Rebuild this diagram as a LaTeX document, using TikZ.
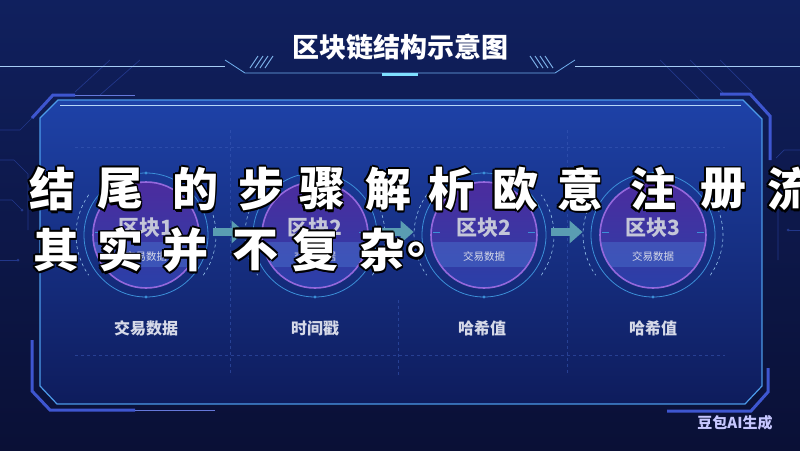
\documentclass[tikz,border=0pt]{standalone}
\usepackage{fontspec}
\setmainfont{Noto Sans CJK SC}
\usetikzlibrary{arrows.meta}
\definecolor{bgtop}{HTML}{10205E}
\definecolor{bgbot}{HTML}{0A1036}
\definecolor{paneltop}{HTML}{1E42A8}
\definecolor{panelbot}{HTML}{0E1C5C}
\definecolor{edge}{HTML}{4C9BEA}
\definecolor{accent}{HTML}{3E56D0}
\definecolor{ring}{HTML}{3C8FD8}
\definecolor{disctop}{HTML}{4C2C9E}
\definecolor{discbot}{HTML}{2A40A8}
\definecolor{discedge}{HTML}{9468DC}
\definecolor{bandc}{HTML}{4A74D0}
\definecolor{arrowc}{HTML}{5A9DB2}
\definecolor{lbl}{HTML}{D6D9E8}
\definecolor{blk}{HTML}{C4C6D8}
\definecolor{circuit}{HTML}{22378A}
\definecolor{grid}{HTML}{3A5AB8}
\definecolor{glow}{HTML}{7FE0FF}
\tikzset{
  bigtxt/.style={font=\bfseries\fontsize{46}{46}\selectfont, inner sep=0pt},
  blocktxt/.style={font=\bfseries\fontsize{21}{21}\selectfont, text=blk},
  subtxt/.style={font=\fontsize{10.5}{11}\selectfont, text=lbl},
  labeltxt/.style={font=\bfseries\fontsize{16}{16}\selectfont, text=lbl},
  ringnode/.style={circle, minimum size=124pt, inner sep=0pt, draw=ring, line width=0.8pt},
  flowarrow/.style={arrowc, line width=8pt, -{Triangle[width=22pt,length=13pt]}},
  accentline/.style={accent, line width=3pt},
  thinaccent/.style={accent!80, line width=1pt},
  circuitline/.style={circuit, line width=0.7pt},
  gridline/.style={grid, dashed, line width=0.5pt, opacity=0.55}
}
\newcommand\brushch[4]{%
  \foreach \dx/\dy in {-1.8/0,1.8/0,0/-1.8,0/1.8,-1.3/-1.3,1.3/1.3,-1.3/1.3,1.3/-1.3,1.5/-2.5}{%
    \node[bigtxt, text=black, xshift=\dx pt, yshift=\dy pt] at (#1,#2) {#3};}
  \node[bigtxt, text=white] (#4) at (#1,#2) {#3};}
\begin{document}
\begin{tikzpicture}[x=1pt,y=-1pt]
\useasboundingbox (0,0) rectangle (800,450);
% background
\shade[top color=bgtop, bottom color=bgbot] (0,0) rectangle (800,450);
% circuits left/right
\draw[circuitline] (0,130) -- (20,130) -- (32,118);
\draw[circuitline] (0,160) -- (14,160) -- (28,174) -- (28,230);
\draw[circuitline] (0,200) -- (12,200) -- (22,210);
\draw[circuitline] (0,260) -- (18,260);
\fill[circuit] (22,210) circle (1.5pt) (18,260) circle (1.5pt);
\draw[circuitline] (800,150) -- (784,150) -- (776,158);
\draw[circuitline] (800,190) -- (786,190) -- (778,198) -- (778,260);
\draw[circuitline] (800,230) -- (788,230);
\fill[circuit] (788,230) circle (1.5pt);
\draw[circuitline] (660,60) -- (700,100);
\draw[circuitline] (690,60) -- (725,95);
\draw[circuitline] (720,60) -- (752,92);
\draw[circuitline] (140,60) -- (100,95);
\draw[circuitline] (110,60) -- (75,92);
% title
\node[font=\bfseries\fontsize{27}{27}\selectfont, text=white] (title) at (400,47) {区块链结构示意图};
\draw[edge!80, line width=0.8pt] (225,60) -- (245,73) -- (555,73) -- (575,60);
\draw[edge!50, line width=0.6pt] (0,66) -- (225,66);
\draw[edge!50, line width=0.6pt] (575,66) -- (800,66);
\foreach \s in {0,5,10,15} {
  \draw[edge!70, line width=0.9pt] (250+\s,68) -- (258+\s,56);
  \draw[edge!70, line width=0.9pt] (530+\s,56) -- (538+\s,68);
}
\draw[glow, line width=3pt] (382,74) -- (418,74);
% panel
\fill[top color=paneltop, bottom color=panelbot]
  (58,100) -- (743,100) -- (762,119) -- (762,386) -- (745,404) -- (57,404) -- (40,386) -- (40,118) -- cycle;
\draw[edge, line width=1.2pt]
  (58,100) -- (743,100) -- (762,119) -- (762,386) -- (745,404) -- (57,404) -- (40,386) -- (40,118) -- cycle;
\draw[edge!40, line width=0.5pt] (60,105) -- (741,105);
% accents
\draw[accentline] (32,118) -- (53,95) -- (75,95);
\draw[thinaccent] (75,95) -- (135,95);
\draw[accentline] (32,340) -- (32,391) -- (50,410) -- (135,410);
\draw[thinaccent] (135,410) -- (215,410);
\draw[accentline] (720,94) -- (750,94) -- (770,116) -- (770,160);
\draw[accentline] (768,368) -- (768,392) -- (751,411) -- (667,411);
% grid lines
\draw[gridline] (75,147) -- (725,147);
\draw[gridline] (75,355) -- (725,355);
\draw[gridline] (230,130) -- (230,375);
\draw[gridline] (398,300) -- (398,375);
\draw[gridline] (567,130) -- (567,375);
% blocks
\foreach \i/\x/\name in {1/146/区块1, 2/315/区块2, 3/484/区块2, 4/653/区块3} {
  \draw[ring!55, dashed, line width=0.6pt] (\x,235) ++(145:70pt) arc (145:215:70pt);
  \draw[ring!55, dashed, line width=0.6pt] (\x,235) ++(-35:70pt) arc (-35:35:70pt);
  \node[ringnode] (c\i) at (\x,235) {};
  \fill[top color=disctop, bottom color=discbot] (\x,235) circle (53pt);
  \begin{scope}
    \clip (\x,235) circle (53pt);
    \fill[bandc, opacity=0.45] (\x-60,242) rectangle (\x+60,267);
  \end{scope}
  \draw[discedge, line width=1.6pt] (\x,235) circle (53pt);
  \draw[ring, line width=0.8pt] (\x-51,232) -- (\x-44,232) (\x+44,232) -- (\x+51,232);
  \fill[ring] (\x,173) circle (1.6pt) (\x,297) circle (1.6pt);
  \node[blocktxt] (t\i) at (\x,228) {\name};
  \node[subtxt] (s\i) at (\x,256) {交易数据};
}
\node[labeltxt] (l1) at (146,328) {交易数据};
\node[labeltxt] (l2) at (315,328) {时间戳};
\node[labeltxt] (l3) at (482,328) {哈希值};
\node[labeltxt] (l4) at (653,328) {哈希值};
% arrows
\draw[flowarrow] ([xshift=5pt,yshift=3pt]c1.east) -- ([xshift=-8pt,yshift=3pt]c2.west);
\draw[flowarrow] ([xshift=5pt,yshift=3pt]c2.east) -- ([xshift=-8pt,yshift=3pt]c3.west);
\draw[flowarrow] ([xshift=5pt,yshift=3pt]c3.east) -- ([xshift=-8pt,yshift=3pt]c4.west);
% overlay text
\brushch{52}{189}{结}{w1}
\brushch{120}{189}{尾}{w2}
\brushch{195}{189}{的}{w3}
\brushch{261}{189}{步}{w4}
\brushch{322}{189}{骤}{w5}
\brushch{388}{189}{解}{w6}
\brushch{451}{189}{析}{w7}
\brushch{515}{189}{欧}{w8}
\brushch{580}{189}{意}{w9}
\brushch{653}{189}{注}{w10}
\brushch{723}{189}{册}{w11}
\brushch{790}{189}{流}{w12}
\brushch{56}{250}{其}{v1}
\brushch{120}{250}{实}{v2}
\brushch{185}{250}{并}{v3}
\brushch{255}{250}{不}{v4}
\brushch{315}{250}{复}{v5}
\brushch{382}{250}{杂}{v6}
\brushch{430}{250}{。}{v7}
% watermark
\node[font=\bfseries\fontsize{15}{15}\selectfont, text=white!78!blue] (wm) at (735,423) {豆包AI生成};
\end{tikzpicture}
\end{document}
